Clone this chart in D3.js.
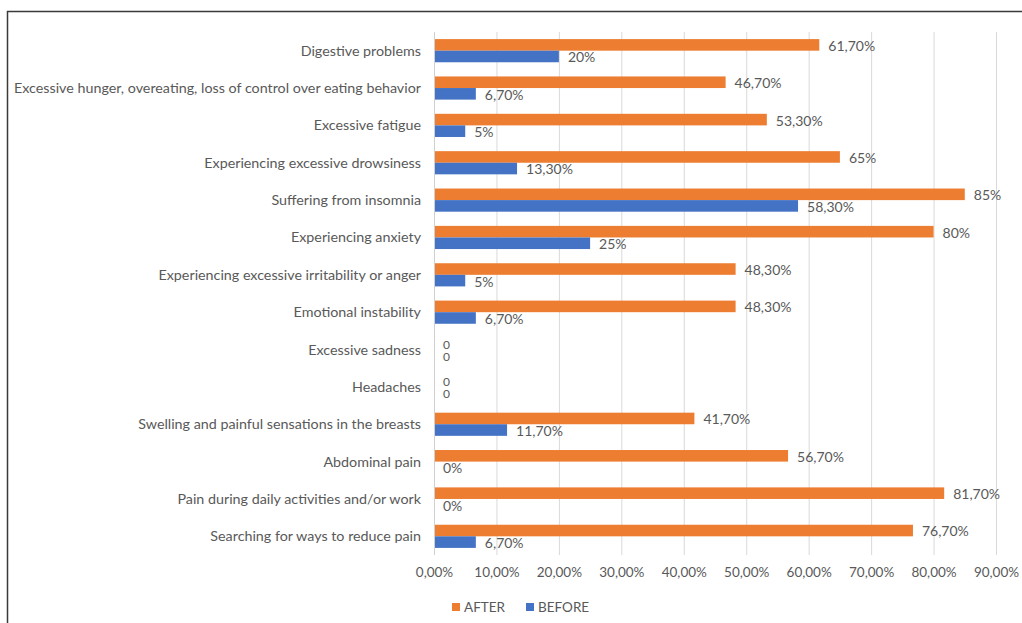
<!DOCTYPE html>
<html>
<head>
<meta charset="utf-8">
<script src="https://cdn.jsdelivr.net/npm/d3@7"></script>
<style>
  body { margin: 0; background: #fff; }
  text { font-family: Lato, "Open Sans", sans-serif; fill: #595959; }
</style>
</head>
<body>
<div id="vis"></div>
<script>
// Datos
const categories = [
  "Digestive problems",
  "Excessive hunger, overeating, loss of control over eating behavior",
  "Excessive fatigue",
  "Experiencing excessive drowsiness",
  "Suffering from insomnia",
  "Experiencing anxiety",
  "Experiencing excessive irritability or anger",
  "Emotional instability",
  "Excessive sadness",
  "Headaches",
  "Swelling and painful sensations in the breasts",
  "Abdominal pain",
  "Pain during daily activities and/or work",
  "Searching for ways to reduce pain"
];
const afterValues = [61.7, 46.7, 53.3, 65, 85, 80, 48.3, 48.3, 0, 0, 41.7, 56.7, 81.7, 76.7];
const beforeValues = [20, 6.7, 5, 13.3, 58.3, 25, 5, 6.7, 0, 0, 11.7, 0, 0, 6.7];
const afterLabels = ["61,70%", "46,70%", "53,30%", "65%", "85%", "80%", "48,30%", "48,30%", "0", "0", "41,70%", "56,70%", "81,70%", "76,70%"];
const beforeLabels = ["20%", "6,70%", "5%", "13,30%", "58,30%", "25%", "5%", "6,70%", "0", "0", "11,70%", "0%", "0%", "6,70%"];
const ticks = [0, 10, 20, 30, 40, 50, 60, 70, 80, 90];
const series = ["AFTER", "BEFORE"];
const colors = { AFTER: "#ED7D31", BEFORE: "#4472C4" };

// Constantes
const WIDTH = 1022;
const HEIGHT = 623;
const margin = { top: 32, right: 26, bottom: 68, left: 434 };

const svg = d3.select("#vis")
  .append("svg")
  .attr("width", WIDTH)
  .attr("height", HEIGHT);

// Marco
svg.append("path")
  .attr("d", `M7.5,${HEIGHT} L7.5,11.5 L${WIDTH},11.5`)
  .attr("fill", "none")
  .attr("stroke", "#3a3a3a")
  .attr("stroke-width", 1.5);

// Escalas
const x = d3.scaleLinear()
  .domain([0, 90])
  .range([margin.left, WIDTH - margin.right]);

const y = d3.scaleBand()
  .domain(categories)
  .range([margin.top, HEIGHT - margin.bottom])
  .paddingInner(0.38)
  .paddingOuter(0.19);

const ySub = d3.scaleBand()
  .domain(series)
  .range([0, y.bandwidth()]);

// Grilla
svg.append("g")
  .selectAll("line")
  .data(ticks.slice(1))
  .join("line")
  .attr("x1", d => x(d) + 0.5)
  .attr("x2", d => x(d) + 0.5)
  .attr("y1", margin.top)
  .attr("y2", HEIGHT - margin.bottom)
  .attr("stroke", "#d9d9d9")
  .attr("stroke-width", 1);

// Eje x
const xAxis = svg.append("g")
  .attr("transform", `translate(0, ${HEIGHT - margin.bottom})`)
  .call(d3.axisBottom(x)
    .tickValues(ticks)
    .tickSize(0)
    .tickPadding(12)
    .tickFormat(d => d.toFixed(2).replace(".", ",") + "%"));
xAxis.select(".domain").remove();
xAxis.selectAll("text")
  .style("font-size", "13.5px")
  .style("fill", "#595959");

// Barras
const rows = categories.map((c, i) => ({
  cat: c,
  vals: [
    { s: "AFTER", v: afterValues[i], label: afterLabels[i] },
    { s: "BEFORE", v: beforeValues[i], label: beforeLabels[i] }
  ]
}));

const groups = svg.append("g")
  .selectAll("g")
  .data(rows)
  .join("g")
  .attr("transform", d => `translate(0, ${y(d.cat)})`);

groups.selectAll("rect")
  .data(d => d.vals)
  .join("rect")
  .attr("x", x(0))
  .attr("y", d => ySub(d.s))
  .attr("width", d => x(d.v) - x(0))
  .attr("height", ySub.bandwidth())
  .attr("fill", d => colors[d.s]);

groups.selectAll("text.val")
  .data(d => d.vals)
  .join("text")
  .attr("class", "val")
  .attr("x", d => x(d.v) + 9)
  .attr("y", d => ySub(d.s) + ySub.bandwidth() / 2 + 1)
  .attr("dy", "0.35em")
  .style("font-size", d => d.v === 0 && d.label === "0" ? "12px" : "14px")
  .text(d => d.label);

// Eje y (línea vertical)
svg.append("line")
  .attr("x1", x(0) + 0.5)
  .attr("x2", x(0) + 0.5)
  .attr("y1", margin.top)
  .attr("y2", HEIGHT - margin.bottom)
  .attr("stroke", "#d0d0d0");

// Etiquetas de categorías
svg.append("g")
  .selectAll("text")
  .data(categories)
  .join("text")
  .attr("x", margin.left - 13)
  .attr("y", d => y(d) + y.bandwidth() / 2)
  .attr("dy", "0.35em")
  .attr("text-anchor", "end")
  .style("font-size", "14.3px")
  .text(d => d);

// Leyenda
const legend = svg.append("g")
  .attr("transform", `translate(452, 607)`);

const items = legend.selectAll("g")
  .data(series)
  .join("g")
  .attr("transform", (d, i) => `translate(${i * 74}, 0)`);

items.append("rect")
  .attr("x", 0)
  .attr("y", -4)
  .attr("width", 8)
  .attr("height", 8)
  .attr("fill", d => colors[d]);

items.append("text")
  .attr("x", 12)
  .attr("y", 0)
  .attr("dy", "0.35em")
  .style("font-size", "13.5px")
  .text(d => d);
</script>
</body>
</html>
